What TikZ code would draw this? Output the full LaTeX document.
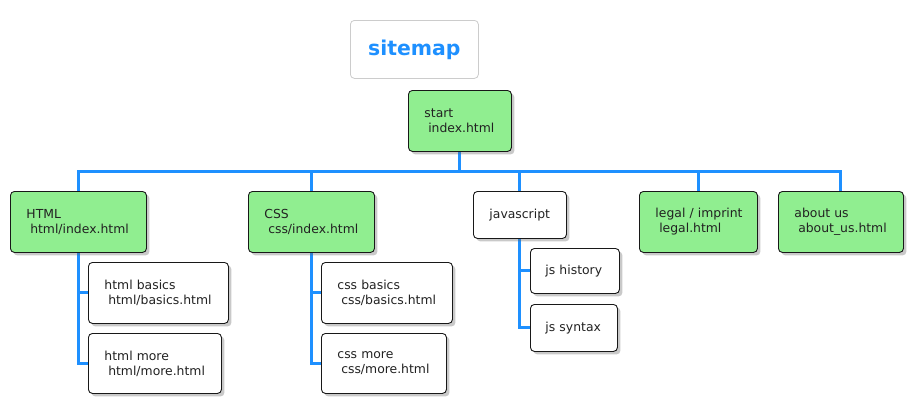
\documentclass[tikz,border=0pt]{standalone}
\usepackage{fontspec}
\setmainfont{DejaVu Sans}
\usetikzlibrary{shadows,backgrounds}
\definecolor{lgreen}{HTML}{90EE90}
\definecolor{dblue}{HTML}{1E90FF}
\definecolor{bord}{HTML}{181818}
\definecolor{titleb}{HTML}{CCCCCC}
\definecolor{txt}{HTML}{222222}
\begin{document}
\begin{tikzpicture}[x=1pt,y=-1pt,
  page/.style={draw=bord, line width=0.9pt, rounded corners=4pt, fill=white,
    anchor=north west, inner xsep=16pt, inner ysep=0pt, align=left,
    font=\fontsize{12.4}{15}\selectfont, text=txt,
    drop shadow={shadow xshift=3pt,shadow yshift=-3pt,opacity=0.35,fill=black!60,draw=none}},
  sec/.style={page, fill=lgreen},
  conn/.style={draw=dblue, line width=3pt}]
\useasboundingbox (0,0) rectangle (919,410);

\node[draw=titleb, rounded corners=4pt, line width=0.8pt, minimum width=128pt,
  minimum height=58pt, anchor=north west, inner sep=0pt,
  font=\fontsize{20.4}{24}\selectfont\bfseries, text=dblue] (title) at (350,20) {\raisebox{-1.5pt}{sitemap}};

\node[sec, text width=71pt, minimum height=61pt] (start) at (408,90) {start\\\hspace*{3.8pt}index.html};

\node[sec, text width=104pt, minimum height=61pt] (html) at (10,191) {HTML\\\hspace*{3.8pt}html/index.html};
\node[page, text width=108pt, minimum height=61pt] (hbasics) at (88,262) {html basics\\\hspace*{3.8pt}html/basics.html};
\node[page, text width=101pt, minimum height=60pt] (hmore) at (88,333) {html more\\\hspace*{3.8pt}html/more.html};

\node[sec, text width=94pt, minimum height=61pt] (css) at (248,191) {CSS\\\hspace*{3.8pt}css/index.html};
\node[page, text width=99pt, minimum height=61pt] (cbasics) at (321,262) {css basics\\\hspace*{3.8pt}css/basics.html};
\node[page, text width=93pt, minimum height=60pt] (cmore) at (321,333) {css more\\\hspace*{3.8pt}css/more.html};

\node[page, text width=61pt, minimum height=47pt] (js) at (473,191) {javascript};
\node[page, minimum height=45pt, inner xsep=15pt, text width=59pt] (jhist) at (530,248) {js history};
\node[page, minimum height=47pt, inner xsep=15pt, text width=57pt] (jsyn) at (530,304) {js syntax};

\node[sec, text width=86pt, minimum height=61pt] (legal) at (639,191) {\mbox{legal / imprint}\\\hspace*{3.8pt}legal.html};
\node[sec, text width=93pt, minimum height=61pt] (about) at (778,191) {about us\\\hspace*{3.8pt}about\_us.html};

\coordinate (bar) at (0,171);
\begin{scope}[on background layer]
\fill[white] (0,0) rectangle (919,410);
\draw[conn] (start.south) -- (start.south |- bar);
\draw[conn] (html.north) |- (start.south |- bar) -| (about.north);
\foreach \n in {css,js,legal} {\draw[conn] (\n.north) -- (\n.north |- bar);}
\draw[conn] (html.south) |- (hmore.west);
\draw[conn] (html.south |- hbasics.west) -- (hbasics.west);
\draw[conn] (css.south) |- (cmore.west);
\draw[conn] (css.south |- cbasics.west) -- (cbasics.west);
\draw[conn] (js.south) |- (jsyn.west);
\draw[conn] (js.south |- jhist.west) -- (jhist.west);
\end{scope}
\end{tikzpicture}
\end{document}
